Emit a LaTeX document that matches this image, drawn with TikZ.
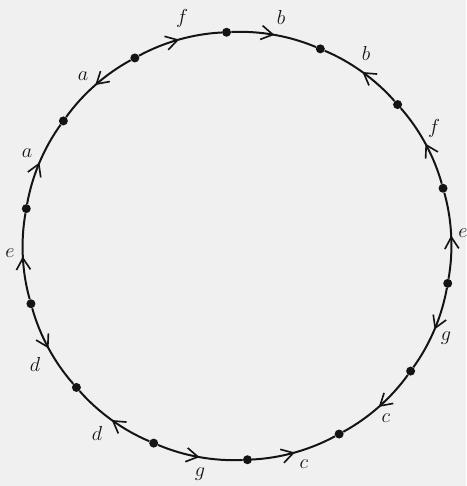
\documentclass[tikz,border=0pt]{standalone}
\usetikzlibrary{arrows.meta,decorations.markings}
\definecolor{paper}{gray}{0.94}
\definecolor{ink}{gray}{0.08}
\tikzset{
  vtx/.style={circle, fill=ink, inner sep=0pt, minimum size=2.7mm},
  edge/.style={draw=ink, line width=1.7pt},
  barb/.tip={Straight Barb[length=3.5mm,width=4.2mm,line width=1.4pt]},
  cw/.style={postaction={decorate, decoration={markings,
     mark=at position 0.5 with {\arrow[ink]{barb}}}}},
  ccw/.style={postaction={decorate, decoration={markings,
     mark=at position 0.5 with {\arrowreversed[ink]{barb}}}}},
  lab/.style={font=\fontsize{17}{20}\selectfont, text=ink, inner sep=0pt}
}
\begin{document}
\begin{tikzpicture}[x=0.03cm,y=0.03cm]
  \fill[paper] (-237,-240) rectangle (229,246);
  \useasboundingbox (-237,-240) rectangle (229,246);
  \foreach \k in {0,...,13}
    \node[vtx] (v\k) at ({92.8-\k*360/14}:214) {};
  \foreach \k/\dir/\lab/\lx/\ly in {0/cw/b/44/229, 1/ccw/b/129/193, 2/ccw/f/197/118,
      3/ccw/e/226/13, 4/cw/g/209/-92, 5/cw/c/149/-172, 6/ccw/c/67/-218,
      7/ccw/g/-37/-228, 8/cw/d/-140/-187, 9/ccw/d/-202/-118, 10/cw/e/-227/-7,
      11/cw/a/-210/93, 12/ccw/a/-154/170, 13/cw/f/-55/228} {
    \pgfmathtruncatemacro\n{mod(\k+1,14)}
    \draw[edge, \dir] (v\k) to[bend left=12.86, looseness=0.85] (v\n);
    \node[lab] (l\k) at (\lx,\ly) {$\lab$};
  }
\end{tikzpicture}
\end{document}
